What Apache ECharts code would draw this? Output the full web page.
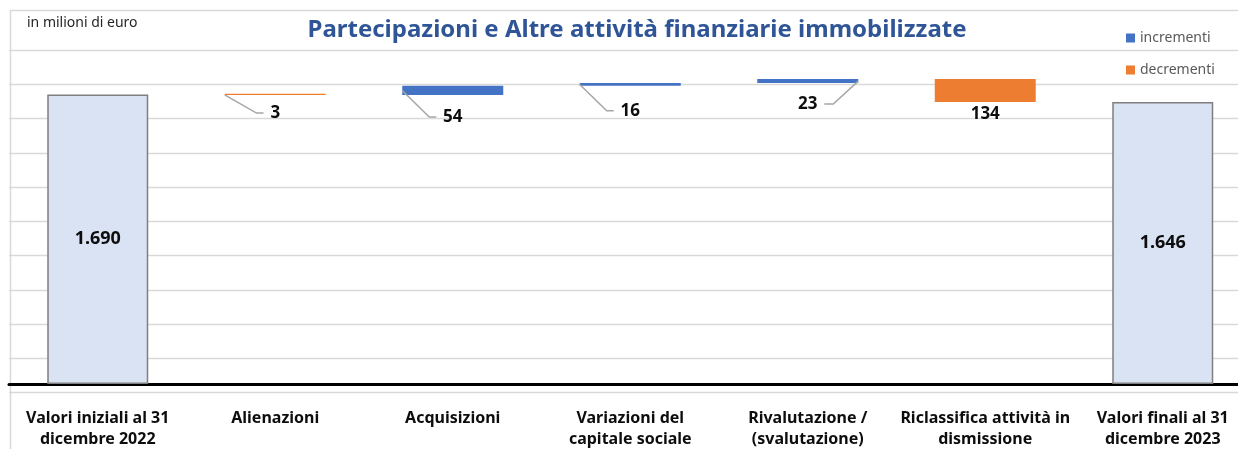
<!DOCTYPE html>
<html>
<head>
<meta charset="utf-8">
<script src="https://cdn.jsdelivr.net/npm/echarts@6/dist/echarts.min.js"></script>
<style>
  html, body { margin: 0; padding: 0; background: #fff; }
  #chart { width: 1238px; height: 449px; }
</style>
</head>
<body>
<div id="chart"></div>
<script>
// categorie e valori (milioni di euro)
var categories = [
  "Valori iniziali al 31\ndicembre 2022",
  "Alienazioni",
  "Acquisizioni",
  "Variazioni del\ncapitale sociale",
  "Rivalutazione /\n(svalutazione)",
  "Riclassifica attività in\ndismissione",
  "Valori finali al 31\ndicembre 2023"
];
var changes = [1690, -3, 54, 16, 23, -134, 1646];
var isTotal = [true, false, false, false, false, false, true];

// basi / totali / incrementi / decrementi ricavati dai valori
var baseData = [], totalData = [], incData = [], decData = [], stepData = [];
var running = 0;
for (var i = 0; i < changes.length; i++) {
  var v = changes[i];
  if (isTotal[i]) {
    baseData.push(0); totalData.push(v); incData.push("-"); decData.push("-");
    running = v;
  } else if (v >= 0) {
    baseData.push(running); totalData.push("-"); incData.push(v); decData.push("-");
    stepData.push([i, running, running + v, v]);
    running += v;
  } else {
    running += v;
    baseData.push(running); totalData.push("-"); incData.push("-"); decData.push(-v);
    stepData.push([i, running, running - v, -v]);
  }
}

function fmt(n) {
  return String(n).replace(/\B(?=(\d{3})+(?!\d))/g, ".");
}

// etichette delle variazioni: spostamento verso il basso e lato della linea guida
var labelDrop = { 1: 18, 2: 22, 3: 25, 4: 21, 5: 12 };
var labelSide = { 1: "left", 2: "left", 3: "left", 4: "right", 5: "none" };
var BAR_W = 101;
var LABEL_SIZE = 17;

function renderLeader(params, api) {
  var idx = api.value(0);
  var pLo = api.coord([idx, api.value(1)]);
  var pHi = api.coord([idx, api.value(2)]);
  var cx = pLo[0];
  var yb = pLo[1];
  var ym = (pLo[1] + pHi[1]) / 2;
  var text = fmt(api.value(3));
  var tw = text.length * LABEL_SIZE * 0.56;
  var ly = yb + labelDrop[idx];
  var children = [];
  var side = labelSide[idx];
  if (side === "left") {
    var endX = cx - tw / 2 - 7;
    children.push({
      type: "polyline",
      shape: { points: [[cx - BAR_W / 2, ym], [endX - 7, ly], [endX, ly]] },
      style: { stroke: "#a6a6a6", lineWidth: 1.5, fill: null }
    });
  } else if (side === "right") {
    var endX2 = cx + tw / 2 + 7;
    children.push({
      type: "polyline",
      shape: { points: [[cx + BAR_W / 2, ym], [endX2 + 9, ly], [endX2, ly]] },
      style: { stroke: "#a6a6a6", lineWidth: 1.5, fill: null }
    });
  }
  children.push({
    type: "text",
    x: cx,
    y: ly,
    style: {
      text: text,
      fill: "#0d0d0d",
      fontFamily: "Noto Sans",
      fontWeight: "bold",
      fontSize: LABEL_SIZE,
      align: "center",
      verticalAlign: "middle"
    }
  });
  return { type: "group", children: children };
}

var myChart = echarts.init(document.getElementById("chart"));
var option = {
  animation: false,
  backgroundColor: "#fff",
  title: [
    {
      text: "Partecipazioni e Altre attività finanziarie immobilizzate",
      left: 632,
      textAlign: "center",
      top: 13,
      textStyle: { fontFamily: "Noto Sans", fontWeight: "bold", fontSize: 24, color: "#2f5597" }
    },
    {
      text: "in milioni di euro",
      left: 22,
      top: 11,
      textStyle: { fontFamily: "Noto Sans", fontWeight: "normal", fontSize: 14, color: "#262626" }
    }
  ],
  legend: {
    orient: "vertical",
    left: 1126,
    top: 31,
    padding: 0,
    itemWidth: 9,
    itemHeight: 9,
    itemGap: 18,
    icon: "rect",
    data: ["incrementi", "decrementi"],
    textStyle: { fontFamily: "Noto Sans", fontSize: 14, color: "#595959" }
  },
  graphic: [
    {
      type: "rect",
      left: 8, top: 8,
      shape: { width: 1260, height: 460 },
      style: { fill: "none", stroke: "#d9d9d9", lineWidth: 1.5 },
      silent: true
    }
  ],
  grid: { left: 9, width: 1242.5, top: 50, height: 342.6, outerBoundsMode: "none" },
  xAxis: {
    type: "category",
    data: categories,
    axisTick: { show: false },
    axisLine: { onZero: true, onZeroAxisIndex: 0, lineStyle: { color: "#000", width: 3 } },
    axisLabel: {
      interval: 0,
      margin: 15,
      fontFamily: "Noto Sans",
      fontWeight: "bold",
      fontSize: 16,
      lineHeight: 21,
      color: "#0d0d0d"
    }
  },
  yAxis: [
    {
      type: "value",
      min: -50,
      max: 1950,
      axisLabel: { show: false },
      axisLine: { show: false },
      axisTick: { show: false },
      splitLine: { show: false }
    },
    {
      // solo per la griglia orizzontale
      type: "value",
      min: 0,
      max: 2000,
      interval: 200,
      axisLabel: { show: false },
      axisLine: { show: false },
      axisTick: { show: false },
      splitLine: { show: true, lineStyle: { color: "#d9d9d9", width: 1.3 } }
    }
  ],
  series: [
    {
      name: "base",
      type: "bar",
      stack: "w",
      barWidth: BAR_W,
      silent: true,
      itemStyle: { color: "transparent" },
      data: baseData
    },
    {
      name: "totale",
      type: "bar",
      stack: "w",
      barWidth: BAR_W,
      itemStyle: { color: "#dae3f3", borderColor: "#7f7f7f", borderWidth: 1.5 },
      label: {
        show: true,
        position: "inside",
        formatter: function (p) { return fmt(p.value); },
        fontFamily: "Noto Sans", fontWeight: "bold", fontSize: 18, color: "#0d0d0d"
      },
      data: totalData
    },
    {
      name: "incrementi",
      type: "bar",
      stack: "w",
      barWidth: BAR_W,
      itemStyle: { color: "#4472c4" },
      data: incData
    },
    {
      name: "decrementi",
      type: "bar",
      stack: "w",
      barWidth: BAR_W,
      barMinHeight: 1.2,
      itemStyle: { color: "#ed7d31" },
      data: decData
    },
    {
      name: "etichette",
      type: "custom",
      silent: true,
      clip: false,
      z: 5,
      renderItem: renderLeader,
      encode: { x: 0, y: [1, 2] },
      data: stepData
    }
  ]
};
myChart.setOption(option);
</script>
</body>
</html>
